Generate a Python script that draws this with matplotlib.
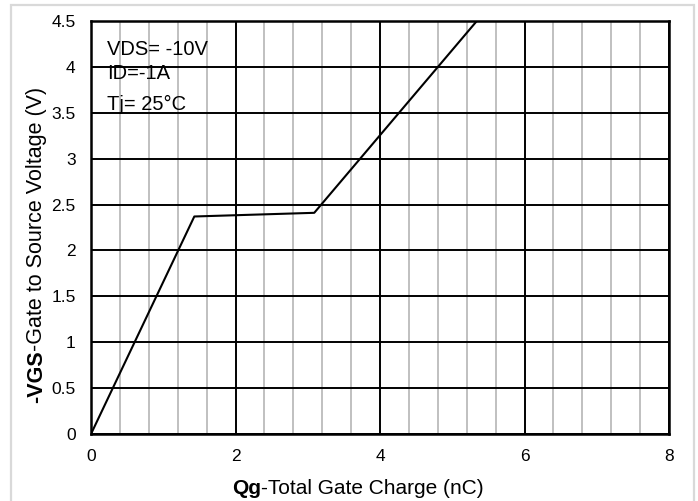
import matplotlib.pyplot as plt
from matplotlib.patches import Rectangle
from matplotlib.ticker import MultipleLocator

plt.rcParams['font.family'] = ['Liberation Sans', 'DejaVu Sans']

# gate charge curve (nC, V)
qg = [0, 1.43, 3.09, 5.34]
vgs = [0, 2.37, 2.41, 4.5]

x_ticks = [0, 2, 4, 6, 8]
y_ticks = [0, 0.5, 1, 1.5, 2, 2.5, 3, 3.5, 4, 4.5]
y_tick_labels = ["0", "0.5", "1", "1.5", "2", "2.5", "3", "3.5", "4", "4.5"]
conditions = ["VDS= -10V", "ID=-1A", "Tj= 25\u00b0C"]

W, H = 698, 501
fig = plt.figure(figsize=(W / 100, H / 100), dpi=100)
ax = fig.add_axes([91 / W, 1 - 434 / H, (669 - 91) / W, (434 - 21) / H])

# light outer frame
fig.patches.append(Rectangle((11 / W, -0.05), (694 - 11) / W, 1.05 - 5 / H,
                             transform=fig.transFigure, fill=False,
                             edgecolor='#d9d9d9', lw=1.6))

ax.set_xlim(0, 8)
ax.set_ylim(0, 4.5)
ax.xaxis.set_minor_locator(MultipleLocator(0.4))
ax.set_xticks(x_ticks)
ax.set_yticks(y_ticks)
ax.set_yticklabels(y_tick_labels)

ax.grid(which='minor', axis='x', color='#c0c0c0', lw=1.4)
ax.grid(which='major', axis='both', color='black', lw=1.4)
ax.set_axisbelow(True)
for s in ax.spines.values():
    s.set_linewidth(1.8)
    s.set_color('black')

ax.tick_params(which='both', length=0, labelsize=12.5, pad=11)

ax.plot(qg, vgs, color='black', lw=1.5, zorder=3)

for t, yb in zip(conditions, [55, 79, 110]):
    fig.text(107 / W, 1 - yb / H, t, fontsize=14.5, va='baseline', ha='left')

renderer = fig.canvas.get_renderer()


def two_part_label(bold, rest, cx, cy, size, vertical=False):
    # bold prefix followed by normal text, centred on (cx, cy) in pixels
    rot = 90 if vertical else 0
    kw = dict(fontsize=size, ha='left', va='baseline', rotation=rot,
              rotation_mode='anchor')
    t1 = fig.text(0, 0, bold, fontweight='bold', **kw)
    t2 = fig.text(0, 0, rest, **kw)
    e1 = t1.get_window_extent(renderer)
    e2 = t2.get_window_extent(renderer)
    if vertical:
        total = e1.height + e2.height
        y0 = (H - cy) - total / 2
        t1.set_position((cx / W, y0 / H))
        t2.set_position((cx / W, (y0 + e1.height) / H))
    else:
        total = e1.width + e2.width
        x0 = cx - total / 2
        t1.set_position((x0 / W, 1 - cy / H))
        t2.set_position(((x0 + e1.width) / W, 1 - cy / H))


two_part_label("Qg", "-Total Gate Charge (nC)", 358, 494, 15)
two_part_label("-VGS", "-Gate to Source Voltage (V)", 42, 245, 15.5, vertical=True)

fig.savefig('out.png', dpi=100)
